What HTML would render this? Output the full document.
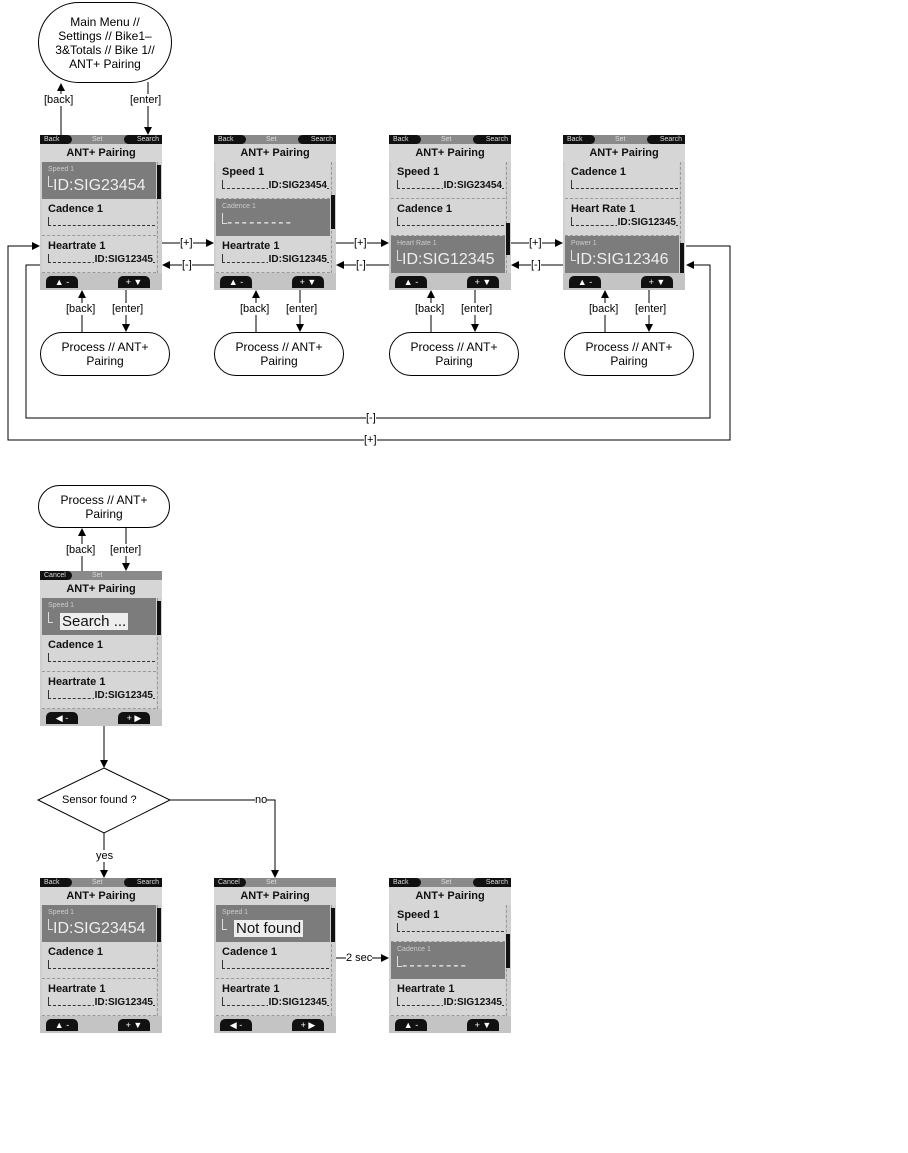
<!DOCTYPE html>
<html><head><meta charset="utf-8"><style>
body{margin:0;background:#fff;width:908px;height:1153px;position:relative;overflow:hidden;font-family:"Liberation Sans",sans-serif}
.s{position:absolute;width:122px;height:155px;background:#cfcfcf;overflow:hidden}
.tb{position:absolute;left:0;top:0;width:122px;height:9px;background:#8a8a8a;font-size:7px;line-height:9px;color:#ddd}
.tb .l{position:absolute;left:0;top:0;width:32px;height:9px;background:#111;border-radius:0 6px 6px 0;padding-left:4px;box-sizing:border-box}
.tb .r{position:absolute;right:0;top:0;width:38px;height:9px;background:#111;border-radius:6px 0 0 6px;text-align:right;padding-right:3px;box-sizing:border-box}
.tb .c{position:absolute;left:52px;top:0}
.ti{position:absolute;left:0;top:9px;width:122px;height:18px;text-align:center;font-weight:bold;font-size:11px;line-height:18px;color:#111;background:#d6d6d6}
.rw{position:absolute;left:2px;width:114px;height:37px;background:#d6d6d6;border-bottom:1px dashed #999;box-sizing:border-box}
.rw.h{background:#7c7c7c;border-bottom:none}
.lb{position:absolute;left:6px;top:4px;font-weight:bold;font-size:11px;color:#111}
.h .lb{font-weight:normal;font-size:7px;color:#ccc}
.br{position:absolute;left:6px;top:18px;width:106px;height:8px;border-left:1px solid #333;border-bottom:1px dashed #333}
.h .br{border-color:#ddd;height:10px;top:14px;width:4px;border-bottom-style:solid}
.id{position:absolute;right:3px;top:18px;font-weight:bold;font-size:10px;color:#111;background:#d6d6d6;padding-left:1px}
.big{position:absolute;left:11px;top:15px;font-size:16px;color:#eee;white-space:nowrap}
.sc{position:absolute;left:117px;top:27px;width:4px;height:111px;border-left:1px dashed #999}
.th{position:absolute;left:117px;width:4px;background:#111}
.bb{position:absolute;left:0;top:138px;width:122px;height:17px;background:#c4c4c4}
.bt{position:absolute;top:3px;width:32px;height:12px;background:#111;border-radius:5px 5px 0 0;color:#fff;font-size:9px;line-height:12px;text-align:center}
.e{position:absolute;border:1px solid #000;border-radius:22px;box-sizing:border-box;text-align:center;font-size:12px;line-height:14px;display:flex;align-items:center;justify-content:center}
.t{position:absolute;font-size:11px;background:#fff;line-height:12px}
svg{position:absolute;left:0;top:0}
</style></head><body>
<svg width="908" height="1153">
<defs><marker id="a" markerWidth="8" markerHeight="8" refX="7" refY="4" orient="auto" markerUnits="userSpaceOnUse"><path d="M0,0L8,4L0,8z"/></marker></defs>
<g stroke="#000" stroke-width="1" fill="none">
<line x1="61" y1="135" x2="61" y2="84" marker-end="url(#a)"/>
<line x1="148" y1="82" x2="148" y2="134" marker-end="url(#a)"/>
<line x1="82" y1="332" x2="82" y2="291" marker-end="url(#a)"/><line x1="126" y1="290" x2="126" y2="331" marker-end="url(#a)"/>
<line x1="256" y1="332" x2="256" y2="291" marker-end="url(#a)"/><line x1="300" y1="290" x2="300" y2="331" marker-end="url(#a)"/>
<line x1="431" y1="332" x2="431" y2="291" marker-end="url(#a)"/><line x1="475" y1="290" x2="475" y2="331" marker-end="url(#a)"/>
<line x1="605" y1="332" x2="605" y2="291" marker-end="url(#a)"/><line x1="649" y1="290" x2="649" y2="331" marker-end="url(#a)"/>
<line x1="162" y1="243" x2="213" y2="243" marker-end="url(#a)"/><line x1="214" y1="265" x2="163" y2="265" marker-end="url(#a)"/>
<line x1="336" y1="243" x2="388" y2="243" marker-end="url(#a)"/><line x1="389" y1="265" x2="337" y2="265" marker-end="url(#a)"/>
<line x1="511" y1="243" x2="562" y2="243" marker-end="url(#a)"/><line x1="563" y1="265" x2="512" y2="265" marker-end="url(#a)"/>
<polyline points="686,246 730,246 730,440 8,440 8,246 39,246" marker-end="url(#a)"/>
<polyline points="40,265 26,265 26,418 710,418 710,265 687,265" marker-end="url(#a)"/>
<line x1="82" y1="571" x2="82" y2="529" marker-end="url(#a)"/><line x1="126" y1="528" x2="126" y2="570" marker-end="url(#a)"/>
<line x1="104" y1="726" x2="104" y2="767" marker-end="url(#a)"/>
<polygon points="104,768 170,800 104,833 38,800"/>
<line x1="104" y1="833" x2="104" y2="877" marker-end="url(#a)"/>
<polyline points="170,800 275,800 275,877" marker-end="url(#a)"/>
<line x1="336" y1="958" x2="388" y2="958" marker-end="url(#a)"/>
</g></svg>

<div class="e" style="left:38px;top:2px;width:134px;height:81px;border-radius:45px">Main Menu //<br>Settings // Bike1–<br>3&amp;Totals // Bike 1//<br>ANT+ Pairing</div>
<div class="t" style="left:44px;top:94px">[back]</div><div class="t" style="left:130px;top:94px">[enter]</div>

<div class="e" style="left:40px;top:332px;width:130px;height:44px">Process // ANT+<br>Pairing</div>
<div class="e" style="left:214px;top:332px;width:130px;height:44px">Process // ANT+<br>Pairing</div>
<div class="e" style="left:389px;top:332px;width:130px;height:44px">Process // ANT+<br>Pairing</div>
<div class="e" style="left:564px;top:332px;width:130px;height:44px">Process // ANT+<br>Pairing</div>
<div class="t" style="left:66px;top:303px">[back]</div><div class="t" style="left:112px;top:303px">[enter]</div>
<div class="t" style="left:240px;top:303px">[back]</div><div class="t" style="left:286px;top:303px">[enter]</div>
<div class="t" style="left:415px;top:303px">[back]</div><div class="t" style="left:461px;top:303px">[enter]</div>
<div class="t" style="left:589px;top:303px">[back]</div><div class="t" style="left:635px;top:303px">[enter]</div>
<div class="t" style="left:180px;top:237px">[+]</div><div class="t" style="left:182px;top:259px">[-]</div>
<div class="t" style="left:354px;top:237px">[+]</div><div class="t" style="left:356px;top:259px">[-]</div>
<div class="t" style="left:529px;top:237px">[+]</div><div class="t" style="left:531px;top:259px">[-]</div>
<div class="t" style="left:366px;top:412px">[-]</div><div class="t" style="left:364px;top:434px">[+]</div>

<div class="e" style="left:38px;top:485px;width:132px;height:43px">Process // ANT+<br>Pairing</div>
<div class="t" style="left:66px;top:544px">[back]</div><div class="t" style="left:110px;top:544px">[enter]</div>
<div class="t" style="left:62px;top:794px;background:none">Sensor found ?</div>
<div class="t" style="left:255px;top:794px">no</div>
<div class="t" style="left:96px;top:850px">yes</div>
<div class="t" style="left:346px;top:952px">2 sec</div>

<div class="s" style="left:40px;top:135px">
<div class="tb"><span class="l">Back</span><span class="c">Set</span><span class="r">Search</span></div>
<div class="ti">ANT+ Pairing</div>
<div class="rw h" style="top:27px"><span class="lb">Speed 1</span><span class="br"></span><span class="big">ID:SIG23454</span></div>
<div class="rw" style="top:64px"><span class="lb">Cadence 1</span><span class="br"></span></div>
<div class="rw" style="top:101px"><span class="lb">Heartrate 1</span><span class="br"></span><span class="id">ID:SIG12345</span></div>
<div class="sc"></div><div class="th" style="top:30px;height:34px"></div>
<div class="bb"><span class="bt" style="left:6px">▲ -</span><span class="bt" style="left:78px">+ ▼</span></div></div>

<div class="s" style="left:214px;top:135px">
<div class="tb"><span class="l">Back</span><span class="c">Set</span><span class="r">Search</span></div>
<div class="ti">ANT+ Pairing</div>
<div class="rw" style="top:27px"><span class="lb">Speed 1</span><span class="br"></span><span class="id">ID:SIG23454</span></div>
<div class="rw h" style="top:64px"><span class="lb">Cadence 1</span><span class="br"></span><span class="big" style="letter-spacing:2px">---------</span></div>
<div class="rw" style="top:101px"><span class="lb">Heartrate 1</span><span class="br"></span><span class="id">ID:SIG12345</span></div>
<div class="sc"></div><div class="th" style="top:60px;height:34px"></div>
<div class="bb"><span class="bt" style="left:6px">▲ -</span><span class="bt" style="left:78px">+ ▼</span></div></div>

<div class="s" style="left:389px;top:135px">
<div class="tb"><span class="l">Back</span><span class="c">Set</span><span class="r">Search</span></div>
<div class="ti">ANT+ Pairing</div>
<div class="rw" style="top:27px"><span class="lb">Speed 1</span><span class="br"></span><span class="id">ID:SIG23454</span></div>
<div class="rw" style="top:64px"><span class="lb">Cadence 1</span><span class="br"></span></div>
<div class="rw h" style="top:101px"><span class="lb">Heart Rate 1</span><span class="br"></span><span class="big">ID:SIG12345</span></div>
<div class="sc"></div><div class="th" style="top:88px;height:32px"></div>
<div class="bb"><span class="bt" style="left:6px">▲ -</span><span class="bt" style="left:78px">+ ▼</span></div></div>

<div class="s" style="left:563px;top:135px">
<div class="tb"><span class="l">Back</span><span class="c">Set</span><span class="r">Search</span></div>
<div class="ti">ANT+ Pairing</div>
<div class="rw" style="top:27px"><span class="lb">Cadence 1</span><span class="br"></span></div>
<div class="rw" style="top:64px"><span class="lb">Heart Rate 1</span><span class="br"></span><span class="id">ID:SIG12345</span></div>
<div class="rw h" style="top:101px"><span class="lb">Power 1</span><span class="br"></span><span class="big">ID:SIG12346</span></div>
<div class="sc"></div><div class="th" style="top:108px;height:30px"></div>
<div class="bb"><span class="bt" style="left:6px">▲ -</span><span class="bt" style="left:78px">+ ▼</span></div></div>

<div class="s" style="left:40px;top:571px">
<div class="tb"><span class="l">Cancel</span><span class="c">Set</span></div>
<div class="ti">ANT+ Pairing</div>
<div class="rw h" style="top:27px"><span class="lb">Speed 1</span><span class="br"></span><span class="big" style="color:#111;background:#eee;font-size:15px;left:18px;padding:0 2px;top:15px">Search ...</span></div>
<div class="rw" style="top:64px"><span class="lb">Cadence 1</span><span class="br"></span></div>
<div class="rw" style="top:101px"><span class="lb">Heartrate 1</span><span class="br"></span><span class="id">ID:SIG12345</span></div>
<div class="sc"></div><div class="th" style="top:30px;height:34px"></div>
<div class="bb"><span class="bt" style="left:6px">◀ -</span><span class="bt" style="left:78px">+ ▶</span></div></div>

<div class="s" style="left:40px;top:878px">
<div class="tb"><span class="l">Back</span><span class="c">Set</span><span class="r">Search</span></div>
<div class="ti">ANT+ Pairing</div>
<div class="rw h" style="top:27px"><span class="lb">Speed 1</span><span class="br"></span><span class="big">ID:SIG23454</span></div>
<div class="rw" style="top:64px"><span class="lb">Cadence 1</span><span class="br"></span></div>
<div class="rw" style="top:101px"><span class="lb">Heartrate 1</span><span class="br"></span><span class="id">ID:SIG12345</span></div>
<div class="sc"></div><div class="th" style="top:30px;height:34px"></div>
<div class="bb"><span class="bt" style="left:6px">▲ -</span><span class="bt" style="left:78px">+ ▼</span></div></div>

<div class="s" style="left:214px;top:878px">
<div class="tb"><span class="l">Cancel</span><span class="c">Set</span></div>
<div class="ti">ANT+ Pairing</div>
<div class="rw h" style="top:27px"><span class="lb">Speed 1</span><span class="br"></span><span class="big" style="color:#111;background:#eee;font-size:15px;left:18px;padding:0 2px;top:15px">Not found</span></div>
<div class="rw" style="top:64px"><span class="lb">Cadence 1</span><span class="br"></span></div>
<div class="rw" style="top:101px"><span class="lb">Heartrate 1</span><span class="br"></span><span class="id">ID:SIG12345</span></div>
<div class="sc"></div><div class="th" style="top:30px;height:34px"></div>
<div class="bb"><span class="bt" style="left:6px">◀ -</span><span class="bt" style="left:78px">+ ▶</span></div></div>

<div class="s" style="left:389px;top:878px">
<div class="tb"><span class="l">Back</span><span class="c">Set</span><span class="r">Search</span></div>
<div class="ti">ANT+ Pairing</div>
<div class="rw" style="top:27px"><span class="lb">Speed 1</span><span class="br"></span></div>
<div class="rw h" style="top:64px"><span class="lb">Cadence 1</span><span class="br"></span><span class="big" style="letter-spacing:2px">---------</span></div>
<div class="rw" style="top:101px"><span class="lb">Heartrate 1</span><span class="br"></span><span class="id">ID:SIG12345</span></div>
<div class="sc"></div><div class="th" style="top:56px;height:34px"></div>
<div class="bb"><span class="bt" style="left:6px">▲ -</span><span class="bt" style="left:78px">+ ▼</span></div></div>
</body></html>
